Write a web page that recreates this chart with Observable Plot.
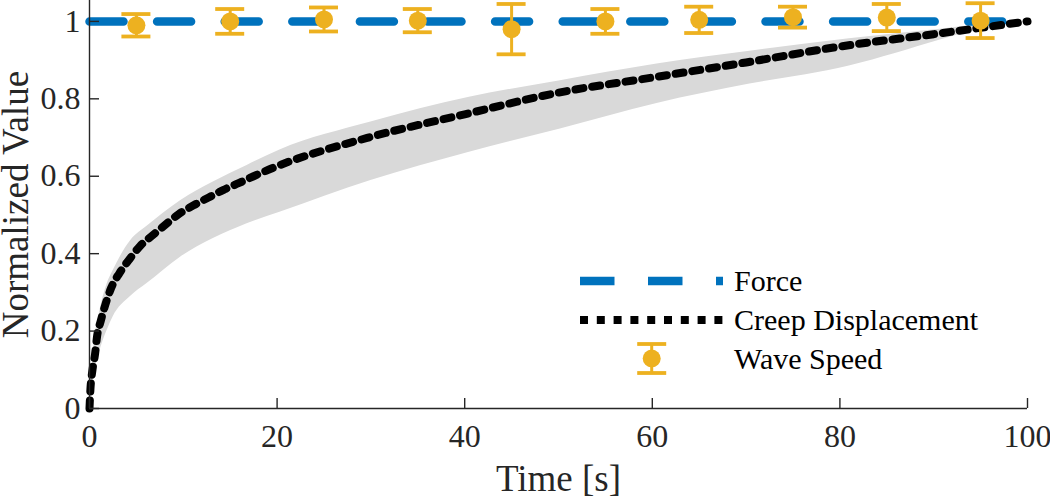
<!DOCTYPE html>
<html><head><meta charset="utf-8">
<script src="https://cdn.jsdelivr.net/npm/d3@7"></script>
<script src="https://cdn.jsdelivr.net/npm/@observablehq/plot@0.6"></script>
<style>
html,body{margin:0;padding:0;background:#fff;}
#wrap{position:relative;width:1050px;height:498px;}
#legend{position:absolute;left:0;top:0;pointer-events:none;}
</style></head><body><div id="wrap"></div>
<script>
// ---- data ----
const xTicks = [0, 20, 40, 60, 80, 100];
const yTicks = [0, 0.2, 0.4, 0.6, 0.8, 1];
const yTickLabels = ["0", "0.2", "0.4", "0.6", "0.8", "1"];

const forceT = [0, 100];
const forceV = [1, 1];

const creepT = [0, 0.1, 0.3, 0.6, 0.8, 1.2, 1.7, 2.3, 3.2, 4.3, 5.4, 6.7, 8.1, 9.5, 11.1, 12.7, 14.3, 15.9, 17.5, 19.2, 29.6, 40, 50, 60, 70, 80, 90, 100];
const creepV = [0, 0.05, 0.097, 0.142, 0.185, 0.226, 0.269, 0.311, 0.35, 0.387, 0.42, 0.447, 0.475, 0.502, 0.525, 0.545, 0.565, 0.582, 0.6, 0.618, 0.699, 0.76, 0.816, 0.855, 0.894, 0.935, 0.967, 1.0];

const bandT     = [0, 0.5, 1, 1.85, 2.5, 4.4, 6.1, 9.7, 13.2, 16.8, 20.3, 30, 40.5, 50.2, 60.5, 70.4, 81, 86, 90.7, 94.3, 100];
const bandUpper = [0, 0.17, 0.24, 0.32, 0.355, 0.434, 0.47, 0.537, 0.585, 0.628, 0.668, 0.74, 0.804, 0.847, 0.89, 0.923, 0.955, 0.968, 0.98, 0.99, 1];
const bandLower = [0, 0.09, 0.14, 0.2, 0.236, 0.29, 0.322, 0.391, 0.439, 0.477, 0.507, 0.589, 0.662, 0.722, 0.788, 0.838, 0.885, 0.918, 0.952, 0.975, 1];

const waveT   = [5, 15, 25, 35, 45, 55, 65, 75, 85, 95];
const waveV   = [0.99, 1.0, 1.005, 1.002, 0.98, 1.0, 1.004, 1.011, 1.01, 1.002];
const waveErr = [0.029, 0.032, 0.031, 0.03, 0.065, 0.032, 0.034, 0.027, 0.035, 0.045];

const seriesNames = ["Force", "Creep Displacement", "Wave Speed"];
const xLabel = "Time [s]";
const yLabel = "Normalized Value";

// ---- tables ----
const force = forceT.map((t, i) => ({t, v: forceV[i]}));
const creep = creepT.map((t, i) => ({t, v: creepV[i]}));
const band = bandT.map((t, i) => ({t, lo: bandLower[i], hi: bandUpper[i]}));
const wave = waveT.map((t, i) => ({t, v: waveV[i], lo: waveV[i] - waveErr[i], hi: waveV[i] + waveErr[i]}));

const BLUE = "#0072BD", ORANGE = "#EDB120", GRAY = "#d9d9d9", AX = "#262626";
const W = 1050, H = 498, ML = 89, MR = 23, MT = 0, MB = 90;
const FONT = "Liberation Serif, Times New Roman, serif";

const chart = Plot.plot({
  width: W, height: H,
  marginLeft: ML, marginRight: MR, marginTop: MT, marginBottom: MB,
  style: {fontFamily: FONT, fontSize: "32px", background: "#fff", overflow: "visible"},
  x: {domain: [0, 100], axis: null, label: null},
  y: {domain: [0, 1.054], axis: null, label: null},
  marks: [
    Plot.areaY(band, {x: "t", y1: "lo", y2: "hi", fill: GRAY, curve: "monotone-x"}),
    Plot.line(force, {x: "t", y: "v", stroke: BLUE, strokeWidth: 8.5, strokeDasharray: "34,33.6"}),
    Plot.line(creep, {x: "t", y: "v", stroke: "#000", strokeWidth: 8, strokeDasharray: "8,8.9", curve: "monotone-x"}),
    Plot.ruleX(wave, {x: "t", y1: "lo", y2: "hi", stroke: ORANGE, strokeWidth: 3}),
    Plot.ruleY(wave, {y: "hi", x1: "t", x2: "t", insetLeft: -14.5, insetRight: -14.5, stroke: ORANGE, strokeWidth: 3.8}),
    Plot.ruleY(wave, {y: "lo", x1: "t", x2: "t", insetLeft: -14.5, insetRight: -14.5, stroke: ORANGE, strokeWidth: 3.8}),
    Plot.dot(wave, {x: "t", y: "v", r: 9, fill: ORANGE, stroke: "none"}),
    // axes
    Plot.ruleX([0], {stroke: AX, strokeWidth: 1.4}),
    Plot.ruleY([0], {stroke: AX, strokeWidth: 1.4}),
    Plot.tickX(xTicks, {x: d => d, insetTop: H - MB - MT - 10, stroke: AX, strokeWidth: 1.4}),
    Plot.tickY(yTicks, {y: d => d, insetRight: W - ML - MR - 10, stroke: AX, strokeWidth: 1.4}),
    Plot.axisX(xTicks, {tickSize: 0, tickPadding: 16, fontSize: 32, fill: AX, label: null}),
    Plot.axisY(yTicks, {tickSize: 0, tickPadding: 9, fontSize: 32, fill: AX, label: null, tickFormat: d => yTickLabels[yTicks.indexOf(d)]}),
    Plot.text([xLabel], {frameAnchor: "bottom", dy: 82, lineAnchor: "bottom", textAnchor: "middle", text: d => d, fontSize: 37, fill: AX}),
    Plot.text([yLabel], {frameAnchor: "left", dx: -62, rotate: -90, lineAnchor: "bottom", textAnchor: "middle", text: d => d, fontSize: 37, fill: AX})
  ]
});
document.getElementById("wrap").appendChild(chart);

// ---- legend overlay ----
const leg = d3.select("#wrap").append("svg").attr("id", "legend")
  .attr("width", W).attr("height", H);
const lx0 = 580, lx1 = 723, tx = 734;
leg.append("line").attr("x1", lx0).attr("x2", lx1).attr("y1", 281).attr("y2", 281)
  .attr("stroke", BLUE).attr("stroke-width", 8.5).attr("stroke-dasharray", "34.5,33.5");
leg.append("line").attr("x1", lx0).attr("x2", lx1).attr("y1", 320).attr("y2", 320)
  .attr("stroke", "#000").attr("stroke-width", 8).attr("stroke-dasharray", "8,8.8");
const mx = 651.7, my = 358.5;
leg.append("line").attr("x1", mx).attr("x2", mx).attr("y1", my - 14.5).attr("y2", my + 14.5).attr("stroke", ORANGE).attr("stroke-width", 3);
leg.append("line").attr("x1", mx - 14.5).attr("x2", mx + 14.5).attr("y1", my - 14.5).attr("y2", my - 14.5).attr("stroke", ORANGE).attr("stroke-width", 3.8);
leg.append("line").attr("x1", mx - 14.5).attr("x2", mx + 14.5).attr("y1", my + 14.5).attr("y2", my + 14.5).attr("stroke", ORANGE).attr("stroke-width", 3.8);
leg.append("circle").attr("cx", mx).attr("cy", my).attr("r", 9).attr("fill", ORANGE);
const baselines = [291, 330, 368.5];
seriesNames.forEach((name, i) => {
  leg.append("text").attr("x", tx).attr("y", baselines[i]).attr("font-family", FONT)
    .attr("font-size", 30).attr("fill", "#000").text(name);
});
</script></body></html>
